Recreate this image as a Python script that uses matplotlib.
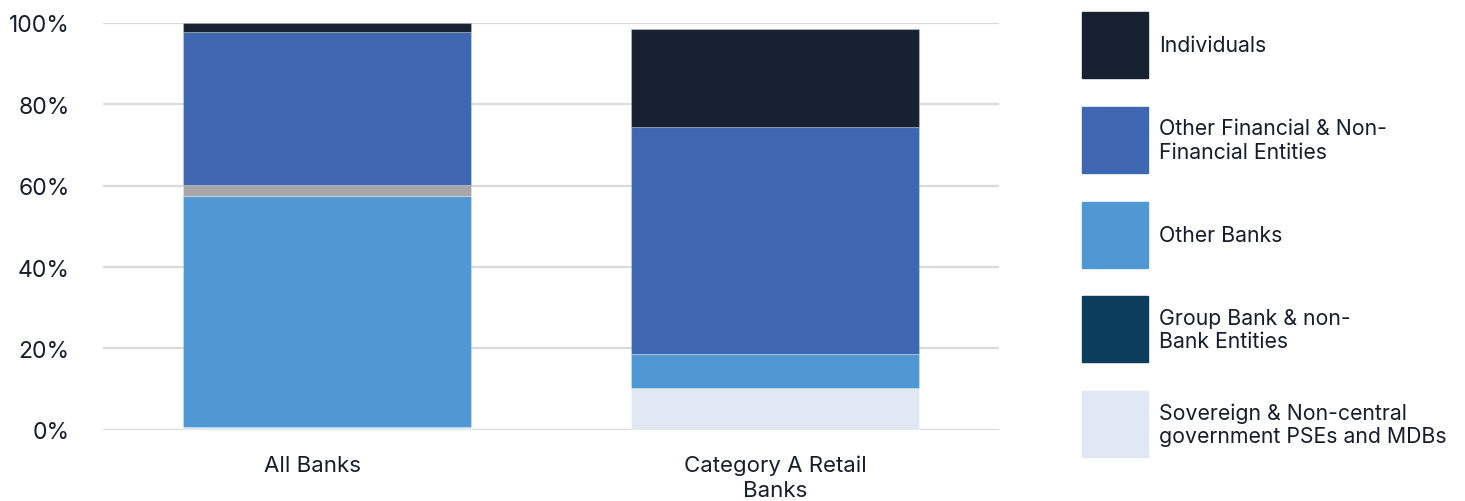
import matplotlib
matplotlib.use("Agg")
import matplotlib.pyplot as plt
import matplotlib.transforms as mtransforms
from matplotlib.patches import Rectangle
import numpy as np

plt.rcParams['font.family'] = ['Inter', 'DejaVu Sans']

categories = ["All Banks", "Category A Retail\nBanks"]

# Stacked shares (%), bottom to top
sovereign = [0.6, 10.2]
group_bank = [0.0, 0.0]
other_banks = [56.8, 8.4]
unclassified = [2.8, 0.0]
other_financial = [37.6, 55.8]
individuals = [2.2, 24.1]

series = [
    ("Sovereign & Non-central\ngovernment PSEs and MDBs", sovereign, "#e0e8f4", True),
    ("Group Bank & non-\nBank Entities", group_bank, "#0c3d5c", True),
    ("Other Banks", other_banks, "#5098d3", True),
    ("Other", unclassified, "#a6a6a6", False),
    ("Other Financial & Non-\nFinancial Entities", other_financial, "#3f66b0", True),
    ("Individuals", individuals, "#172131", True),
]

yticks = [0, 20, 40, 60, 80, 100]
ytick_labels = ["0%", "20%", "40%", "60%", "80%", "100%"]

text_color = "#161d2b"
W, H = 1465, 502
fig = plt.figure(figsize=(W / 100, H / 100), dpi=100)
ax = fig.add_axes([103 / W, 1 - 430.7 / H, (999 - 103) / W, (430.7 - 24) / H])

x = np.arange(len(categories))
bottom = np.zeros(len(categories))
for name, vals, color, _ in series:
    vals = np.array(vals, dtype=float)
    ax.bar(x, vals, width=0.645, bottom=bottom, color=color,
           edgecolor=(1, 1, 1, 0.25), linewidth=0.8, zorder=3)
    bottom += vals

ax.set_xlim(-0.5, 1.5)
ax.set_ylim(0, 100)
ax.set_yticks(yticks)
ax.set_yticklabels(ytick_labels)
ax.set_xticks(x)
ax.set_xticklabels(categories)
ax.yaxis.grid(True, color="#dadada", linewidth=1.6, zorder=0)
ax.set_axisbelow(True)
for s in ax.spines.values():
    s.set_visible(False)
ax.tick_params(axis="y", length=0, pad=24, labelsize=16.5, labelcolor=text_color)
ax.tick_params(axis="x", length=0, pad=18, labelsize=16, labelcolor=text_color)
for lbl in ax.get_xticklabels():
    lbl.set_linespacing(1.33)
# first category label sits a little left of its bar centre
first = ax.get_xticklabels()[0]
first.set_transform(first.get_transform() +
                    mtransforms.ScaledTranslation(-15 / 100, 0, fig.dpi_scale_trans))

# Legend drawn as swatches and labels in figure coordinates
legend_items = [s for s in series[::-1] if s[3]]
top0 = 13
step = 94.8
for i, (name, _, color, _) in enumerate(legend_items):
    top = top0 + i * step
    fig.patches.append(Rectangle((1082 / W, 1 - (top + 66) / H), 66 / W, 66 / H,
                                 transform=fig.transFigure, color=color))
    fig.text(1159 / W, 1 - (top + 33) / H, name, ha="left", va="center",
             fontsize=15.3, color=text_color, linespacing=1.22)

fig.savefig("out.png", dpi=100)
